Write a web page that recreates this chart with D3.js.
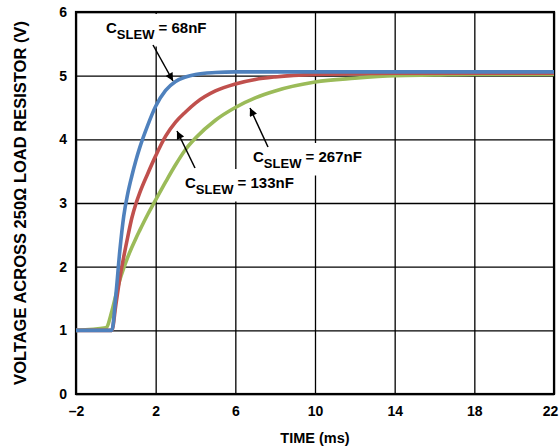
<!DOCTYPE html>
<html>
<head>
<meta charset="utf-8">
<script src="https://cdn.jsdelivr.net/npm/d3@7"></script>
<style>
  body { margin: 0; background: #fff; }
  svg text { font-family: "Liberation Sans", Arial, sans-serif; font-weight: bold; fill: #000; }
</style>
</head>
<body>
<svg width="559" height="448"></svg>
<script>
// time in ms, voltage in V
var timeMs = [-2, -0.5, -0.2, 0, 0.2, 0.4, 0.6, 0.8, 1.0, 1.2, 1.6, 2, 2.5, 3, 3.5, 4, 5, 6, 7, 8, 10, 12, 14, 16, 18, 20, 22];
var volt68 = [1.0, 1.0, 1.0, 1.55, 2.25, 2.8, 3.15, 3.42, 3.66, 3.87, 4.22, 4.52, 4.77, 4.91, 4.98, 5.02, 5.05, 5.06, 5.06, 5.06, 5.06, 5.06, 5.06, 5.06, 5.06, 5.06, 5.06];
var volt133 = [1.0, 1.0, 1.0, 1.4, 1.82, 2.16, 2.47, 2.76, 2.98, 3.16, 3.46, 3.74, 4.05, 4.27, 4.43, 4.57, 4.76, 4.87, 4.94, 4.98, 5.02, 5.03, 5.04, 5.04, 5.04, 5.04, 5.04];
var volt267 = [1.0, 1.04, 1.3, 1.55, 1.79, 1.98, 2.15, 2.3, 2.44, 2.57, 2.82, 3.05, 3.33, 3.6, 3.84, 4.02, 4.3, 4.5, 4.65, 4.76, 4.9, 4.96, 5.0, 5.01, 5.02, 5.02, 5.02];
var xTicks = [-2, 2, 6, 10, 14, 18, 22];
var yTicks = [0, 1, 2, 3, 4, 5, 6];

var svg = d3.select("svg");
var margin = {left: 76, top: 12, right: 5, bottom: 54};
var width = 559 - margin.left - margin.right, height = 448 - margin.top - margin.bottom;
var g = svg.append("g").attr("transform", "translate(" + margin.left + "," + margin.top + ")");

var x = d3.scaleLinear().domain([-2, 22]).range([0, width]);
var y = d3.scaleLinear().domain([0, 6]).range([height, 0]);

var xAxis = g.append("g").attr("transform", "translate(0," + height + ")")
    .call(d3.axisBottom(x).tickValues(xTicks).tickSizeInner(-height).tickSizeOuter(0).tickPadding(12)
        .tickFormat(function (d) { return d < 0 ? "\u2013" + Math.abs(d) : d; }));
var yAxis = g.append("g")
    .call(d3.axisLeft(y).tickValues(yTicks).tickSizeInner(-width).tickSizeOuter(0).tickPadding(9)
        .tickFormat(d3.format("d")));
[xAxis, yAxis].forEach(function (a) {
    a.select(".domain").remove();
    a.selectAll("line").attr("stroke", "#000").attr("stroke-width", 1.3);
    a.selectAll("text").style("font-size", "14px").style("font-family", "Liberation Sans, Arial, sans-serif")
        .style("font-weight", "bold");
});
// last label sits on the right edge, like the original
xAxis.selectAll("text").filter(function (d) { return d === 22; }).attr("dx", -4);

g.append("rect").attr("width", width).attr("height", height)
    .attr("fill", "none").attr("stroke", "#000").attr("stroke-width", 2.2);

var defs = svg.append("defs");
defs.append("marker").attr("id", "arr").attr("viewBox", "0 0 10 10")
    .attr("refX", 10).attr("refY", 5).attr("markerWidth", 11).attr("markerHeight", 8)
    .attr("markerUnits", "userSpaceOnUse").attr("orient", "auto")
    .append("path").attr("d", "M0,0L10,5L0,10Z").attr("fill", "#000");

var labels = [
    {cap: "68nF", x: 106, y: 33, from: [153, 45], to: [173, 81]},
    {cap: "133nF", x: 185, y: 188, from: [195, 168], to: [177, 131]},
    {cap: "267nF", x: 253, y: 162, from: [268, 147], to: [250, 108]}
];

var series = [
    {v: volt267, color: "#9BBB59"},
    {v: volt133, color: "#C0504D"},
    {v: volt68, color: "#4F81BD"}
];
var line = d3.line().curve(d3.curveMonotoneX);

// labels with white boxes, drawn before the traces
var lab = svg.append("g");
labels.forEach(function (d) {
    var t = lab.append("text").attr("x", d.x).attr("y", d.y).style("font-size", "15px");
    t.append("tspan").text("C");
    t.append("tspan").attr("dy", 5.5).style("font-size", "13px").text("SLEW");
    t.append("tspan").attr("dy", -5.5).text(" = " + d.cap);
    var bb = t.node().getBBox();
    lab.insert("rect", "text").attr("x", bb.x - 3).attr("y", bb.y - 5)
        .attr("width", bb.width + 6).attr("height", bb.height + 10).attr("fill", "#fff");
});

series.forEach(function (s) {
    g.append("path")
        .attr("d", line(timeMs.map(function (t, i) { return [x(t), y(s.v[i])]; })))
        .attr("fill", "none").attr("stroke", s.color).attr("stroke-width", 3.6)
        .attr("stroke-linejoin", "round");
});

labels.forEach(function (d) {
    svg.append("line").attr("x1", d.from[0]).attr("y1", d.from[1])
        .attr("x2", d.to[0]).attr("y2", d.to[1])
        .attr("stroke", "#000").attr("stroke-width", 1.5).attr("marker-end", "url(#arr)");
});

svg.append("text").attr("x", margin.left + width / 2).attr("y", 443)
    .attr("text-anchor", "middle").style("font-size", "14.5px").text("TIME (ms)");
svg.append("text").attr("transform", "translate(26," + (margin.top + height / 2) + ") rotate(-90)")
    .attr("text-anchor", "middle").style("font-size", "16.5px")
    .text("VOLTAGE ACROSS 250\u03A9 LOAD RESISTOR (V)");
</script>
</body>
</html>
